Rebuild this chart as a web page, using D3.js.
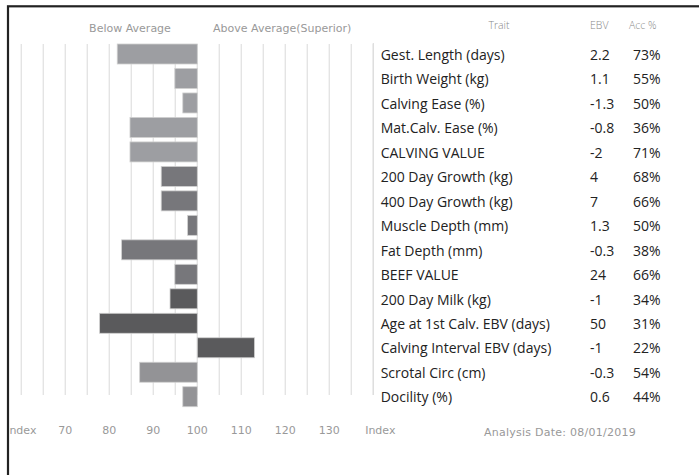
<!DOCTYPE html>
<html><head><meta charset="utf-8">
<script src="https://cdn.jsdelivr.net/npm/d3@7"></script>
<style>body{margin:0;background:#fff;} svg{display:block;}</style>
</head><body>
<svg id="c" width="699" height="475"></svg>
<script>
const traits = ["Gest. Length (days)","Birth Weight (kg)","Calving Ease (%)","Mat.Calv. Ease (%)","CALVING VALUE","200 Day Growth (kg)","400 Day Growth (kg)","Muscle Depth (mm)","Fat Depth (mm)","BEEF VALUE","200 Day Milk (kg)","Age at 1st Calv. EBV (days)","Calving Interval EBV (days)","Scrotal Circ (cm)","Docility (%)"];
const indexValues = [81.8,94.9,96.7,84.7,84.7,91.8,91.8,97.8,82.8,94.9,93.8,77.8,113,86.9,96.7];
const ebv = ["2.2","1.1","-1.3","-0.8","-2","4","7","1.3","-0.3","24","-1","50","-1","-0.3","0.6"];
const acc = ["73%","55%","50%","36%","71%","68%","66%","50%","38%","66%","34%","31%","22%","54%","44%"];
const groups = ["calving","calving","calving","calving","calving","growth","growth","growth","growth","growth","maternal","maternal","maternal","other","other"];
const tickValues = [60,70,80,90,100,110,120,130];
const tickLabels = ["Index","70","80","90","100","110","120","130"];
const gridValues = d3.range(60,145,5);
const groupColor = {calving:"#9d9ea2",growth:"#77777b",maternal:"#5a5a5c",other:"#939396"};

const svg = d3.select("#c");
const x = d3.scaleLinear().domain([60,140]).range([21.3,373.3]);
const y = d3.scaleBand().domain(traits).range([41.76,408.96]).paddingInner(0.183).paddingOuter(0.0915);
const gTop = y(traits[0]), gBot = y(traits[traits.length-1]) + 8.3;
const lab = "DejaVu Sans";

// gridlines
svg.append("g").selectAll("line").data(gridValues).join("line")
  .attr("x1",d=>x(d)).attr("x2",d=>x(d)).attr("y1",gTop).attr("y2",gBot)
  .attr("stroke","#e4e4e4").attr("stroke-width",1.4);

// bars
svg.append("g").selectAll("rect").data(traits).join("rect")
  .attr("x",(d,i)=>x(Math.min(100,indexValues[i])))
  .attr("width",(d,i)=>Math.abs(x(indexValues[i])-x(100)))
  .attr("y",d=>y(d)).attr("height",y.bandwidth())
  .attr("fill",(d,i)=>groupColor[groups[i]])
  .attr("stroke","#d0d0d0").attr("stroke-width",0.8);

// axis labels
const ax = svg.append("g").attr("transform","translate(0,430)");
ax.selectAll("text").data(tickValues).join("text")
  .attr("x",d=>x(d)).attr("y",0).attr("dy","0.35em").attr("text-anchor","middle")
  .attr("font-family",lab).attr("font-size",11).attr("fill","#999")
  .text((d,i)=>tickLabels[i]);
ax.append("text").attr("x",x(140)+7).attr("y",0).attr("dy","0.35em").attr("text-anchor","middle")
  .attr("font-family",lab).attr("font-size",11).attr("fill","#999").text("Index");
ax.append("text").attr("x",484).attr("y",2).attr("dy","0.35em")
  .attr("font-family",lab).attr("font-size",11).attr("fill","#999").attr("letter-spacing",0.25)
  .text("Analysis Date: 08/01/2019");

// header
svg.append("text").attr("x",130).attr("y",28).attr("dy","0.35em").attr("text-anchor","middle")
  .attr("font-family",lab).attr("font-size",11).attr("fill","#999").text("Below Average");
svg.append("text").attr("x",213).attr("y",28).attr("dy","0.35em")
  .attr("font-family",lab).attr("font-size",11).attr("fill","#999").text("Above Average(Superior)");

// table
svg.append("line").attr("x1",x(140)).attr("x2",x(140)).attr("y1",gTop-1).attr("y2",gBot)
  .attr("stroke","#ddd").attr("stroke-width",1.2);
const hdr = [["Trait",499,"middle"],["EBV",590,"start"],["Acc %",629,"start"]];
svg.append("g").selectAll("text").data(hdr).join("text")
  .attr("x",d=>d[1]).attr("y",25).attr("dy","0.35em").attr("text-anchor",d=>d[2])
  .attr("font-family","Open Sans").attr("font-weight",300).attr("font-size",10.5).attr("fill","#888")
  .text(d=>d[0]);
const rows = svg.append("g").selectAll("g").data(traits).join("g")
  .attr("transform",d=>`translate(0,${y(d)+y.bandwidth()/2+0.8})`);
const tf = s=>s.attr("font-family","Open Sans").attr("font-size",14).attr("fill","#222").attr("dy","0.35em");
rows.append("text").attr("x",380.7).text(d=>d).call(tf);
rows.append("text").attr("x",590).text((d,i)=>ebv[i]).call(tf);
rows.append("text").attr("x",633).text((d,i)=>acc[i]).call(tf);

// clip area left of frame + frame
svg.append("rect").attr("x",0).attr("y",0).attr("width",7).attr("height",475).attr("fill","#fff");
svg.append("rect").attr("x",0).attr("y",0).attr("width",699).attr("height",5.2).attr("fill","#fff");
svg.append("rect").attr("x",8).attr("y",6.3).attr("width",760).attr("height",520)
  .attr("fill","none").attr("stroke","#222").attr("stroke-width",2.2);
</script>
</body></html>
